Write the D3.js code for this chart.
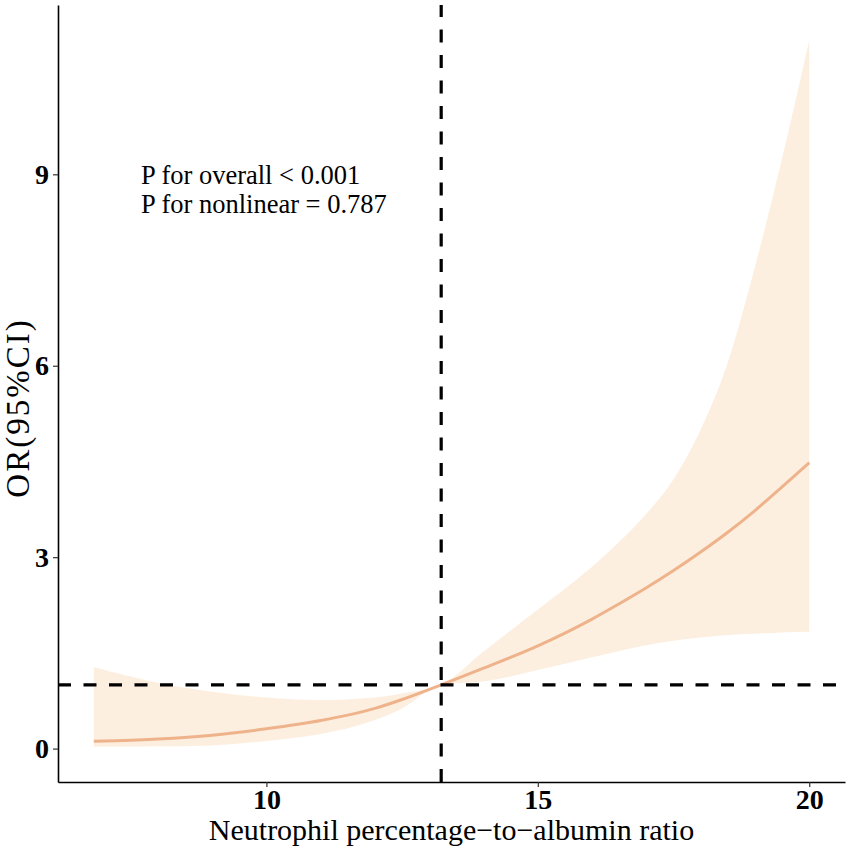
<!DOCTYPE html>
<html>
<head>
<meta charset="utf-8">
<script src="https://cdn.jsdelivr.net/npm/d3@7"></script>
<style>
  body { margin: 0; background: #fff; }
  svg { display: block; }
</style>
</head>
<body>
<div id="chart"></div>
<script>
// values
let npar = [6.82, 7.5, 8, 9, 10, 11, 12, 12.5, 13.22, 14, 15, 16, 16.5, 17, 17.5, 18, 18.5, 19, 19.5, 20];
let orValue = [0.116, 0.13, 0.15, 0.21, 0.31, 0.44, 0.63, 0.77, 1.0, 1.26, 1.61, 2.03, 2.27, 2.52, 2.79, 3.08, 3.39, 3.73, 4.1, 4.48];
let orLower = [0.03, 0.03, 0.035, 0.05, 0.12, 0.23, 0.45, 0.63, 1.0, 1.05, 1.23, 1.43, 1.53, 1.62, 1.69, 1.74, 1.78, 1.8, 1.82, 1.83];
let orUpper = [1.28, 1.13, 1.03, 0.89, 0.8, 0.76, 0.8, 0.865, 1.0, 1.52, 2.18, 2.85, 3.24, 3.68, 4.22, 5.0, 6.05, 7.55, 9.25, 11.1];
let xTicks = [10, 15, 20];
let yTicks = [0, 3, 6, 9];
let refX = 13.22;
let refY = 1;
let pLines = ["P for overall < 0.001", "P for nonlinear = 0.787"];

let width = 851;
let height = 851;
let margin = {top: 5, right: 6, bottom: 69, left: 58};
let font = "'Liberation Serif', 'Times New Roman', serif";

let rows = npar.map((x, i) => {
  return {x: x, y: orValue[i], lo: orLower[i], hi: orUpper[i]};
});

let svg = d3.select("#chart").append("svg")
  .attr("width", width)
  .attr("height", height);

// ggplot style 5% expansion on both axes
let xMin = d3.min(npar), xMax = d3.max(npar);
let yMin = d3.min(orLower), yMax = d3.max(orUpper);
let xPad = (xMax - xMin) * 0.05;
let yPad = (yMax - yMin) * 0.05;

let x = d3.scaleLinear()
  .domain([xMin - xPad, xMax + xPad])
  .range([margin.left, width - margin.right]);
let y = d3.scaleLinear()
  .domain([yMin - yPad, yMax + yPad])
  .range([height - margin.bottom, margin.top]);

let band = d3.area()
  .x((d) => x(d.x))
  .y0((d) => y(d.lo))
  .y1((d) => y(d.hi))
  .curve(d3.curveMonotoneX);

let line = d3.line()
  .x((d) => x(d.x))
  .y((d) => y(d.y))
  .curve(d3.curveMonotoneX);

svg.append("path")
  .datum(rows)
  .attr("d", band)
  .attr("fill", "#fdefe0");

svg.append("path")
  .datum(rows)
  .attr("d", line)
  .attr("fill", "none")
  .attr("stroke", "#efb38c")
  .attr("stroke-width", 3);

// reference lines
svg.append("line")
  .attr("x1", x.range()[0])
  .attr("x2", x.range()[1])
  .attr("y1", y(refY))
  .attr("y2", y(refY))
  .attr("stroke", "black")
  .attr("stroke-width", 3.2)
  .attr("stroke-dasharray", "13,12.5");

svg.append("line")
  .attr("x1", x(refX))
  .attr("x2", x(refX))
  .attr("y1", y.range()[0])
  .attr("y2", y.range()[1])
  .attr("stroke", "black")
  .attr("stroke-width", 3.2)
  .attr("stroke-dasharray", "13,12.5");

// axes
let xAxis = svg.append("g")
  .attr("transform", `translate(0, ${height - margin.bottom})`)
  .call(d3.axisBottom(x).tickValues(xTicks).tickSize(5).tickSizeOuter(0));
let yAxis = svg.append("g")
  .attr("transform", `translate(${margin.left}, 0)`)
  .call(d3.axisLeft(y).tickValues(yTicks).tickSize(5).tickSizeOuter(0));

[xAxis, yAxis].forEach((g) => {
  g.select(".domain").attr("stroke", "black").attr("stroke-width", 1.6);
  g.selectAll(".tick line").attr("stroke", "#333").attr("stroke-width", 1.2);
  g.selectAll(".tick text")
    .attr("fill", "black")
    .style("font-family", font)
    .style("font-weight", "bold")
    .style("font-size", "28px");
});
xAxis.selectAll(".tick text").attr("dy", "0.72em").attr("y", 7);
yAxis.selectAll(".tick text").attr("x", -9);

// axis titles
svg.append("text")
  .attr("x", (x.range()[0] + x.range()[1]) / 2)
  .attr("y", 840)
  .attr("text-anchor", "middle")
  .style("font-family", font)
  .style("font-size", "30px")
  .text("Neutrophil percentage\u2212to\u2212albumin ratio");

svg.append("text")
  .attr("transform", "translate(29, 408) rotate(-90)")
  .attr("text-anchor", "middle")
  .style("font-family", font)
  .style("font-size", "33px")
  .style("letter-spacing", "2px")
  .text("OR(95%CI)");

// p values
svg.selectAll("text.p-label")
  .data(pLines)
  .enter()
  .append("text")
  .classed("p-label", true)
  .attr("x", 141)
  .attr("y", (d, i) => 184 + i * 29)
  .style("font-family", font)
  .style("font-size", "26.5px")
  .text((d) => d);
</script>
</body>
</html>
